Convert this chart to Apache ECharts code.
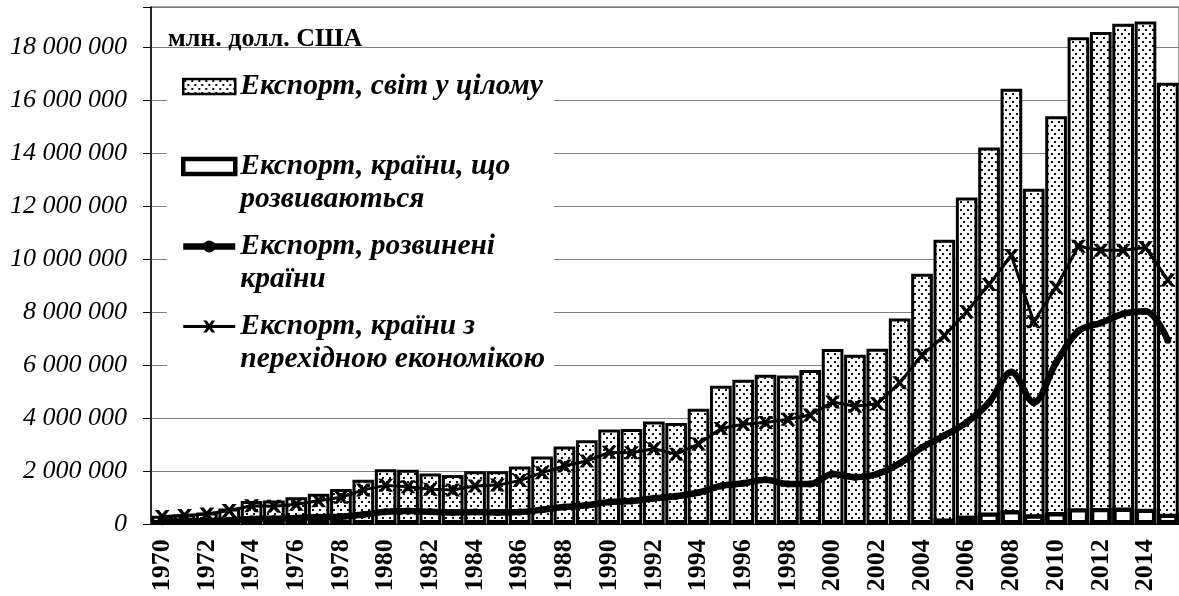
<!DOCTYPE html>
<html>
<head>
<meta charset="utf-8">
<script src="https://cdn.jsdelivr.net/npm/echarts@6/dist/echarts.min.js"></script>
<style>
  html, body { margin: 0; padding: 0; background: #fff; }
  #chart { width: 1179px; height: 596px; }
</style>
</head>
<body>
<div id="chart"></div>
<script>
// млн. долл. США
const years = ['1970', '1971', '1972', '1973', '1974', '1975', '1976', '1977', '1978', '1979',
  '1980', '1981', '1982', '1983', '1984', '1985', '1986', '1987', '1988', '1989',
  '1990', '1991', '1992', '1993', '1994', '1995', '1996', '1997', '1998', '1999',
  '2000', '2001', '2002', '2003', '2004', '2005', '2006', '2007', '2008', '2009',
  '2010', '2011', '2012', '2013', '2014', '2015'];

const worldExport = [320000, 370000, 450000, 600000, 880000, 900000, 1020000, 1150000, 1330000, 1680000,
  2080000, 2060000, 1920000, 1860000, 2000000, 2000000, 2180000, 2560000, 2940000, 3170000,
  3580000, 3600000, 3880000, 3830000, 4360000, 5230000, 5460000, 5650000, 5620000, 5830000,
  6620000, 6400000, 6630000, 7770000, 9460000, 10750000, 12340000, 14230000, 16450000, 12670000,
  15410000, 18390000, 18590000, 18900000, 18990000, 16670000];

const developingExport = [20000, 20000, 25000, 30000, 35000, 35000, 35000, 40000, 40000, 40000,
  45000, 45000, 45000, 45000, 45000, 45000, 45000, 50000, 50000, 50000,
  55000, 55000, 55000, 55000, 60000, 60000, 60000, 65000, 65000, 65000,
  70000, 70000, 80000, 100000, 140000, 220000, 330000, 450000, 540000, 380000,
  460000, 610000, 620000, 630000, 590000, 400000];

const developedExport = [100000, 110000, 120000, 150000, 200000, 210000, 240000, 270000, 290000, 370000,
  470000, 500000, 470000, 450000, 460000, 450000, 460000, 550000, 650000, 720000,
  840000, 880000, 980000, 1060000, 1200000, 1450000, 1550000, 1680000, 1520000, 1520000,
  1900000, 1780000, 1900000, 2300000, 2900000, 3350000, 3850000, 4600000, 5750000, 4600000,
  6100000, 7300000, 7600000, 7950000, 8050000, 6950000];

const transitionExport = [290000, 330000, 390000, 520000, 700000, 680000, 760000, 890000, 1020000, 1300000,
  1470000, 1420000, 1320000, 1300000, 1450000, 1480000, 1650000, 1950000, 2200000, 2390000,
  2720000, 2700000, 2850000, 2650000, 3030000, 3620000, 3780000, 3840000, 3970000, 4130000,
  4620000, 4460000, 4550000, 5350000, 6390000, 7120000, 8030000, 9060000, 10150000, 7650000,
  8950000, 10500000, 10350000, 10350000, 10450000, 9230000];

const seriesNames = ['Експорт, світ у цілому', 'Експорт, країни, що розвиваються',
  'Експорт, розвинені країни', 'Експорт, країни з перехідною економікою'];
const legendLabels = ['\nЕкспорт, світ у цілому\n', '\nЕкспорт, країни, що\nрозвиваються',
  '\nЕкспорт, розвинені\nкраїни', '\nЕкспорт, країни з\nперехідною економікою'];
const unitLabel = 'млн. долл. США';

const serif = 'Liberation Serif, Times New Roman, serif';

function dotPattern() {
  const c = document.createElement('canvas');
  c.width = 7;
  c.height = 8;
  const ctx = c.getContext('2d');
  ctx.fillStyle = '#fff';
  ctx.fillRect(0, 0, 7, 8);
  ctx.fillStyle = '#111';
  ctx.fillRect(1, 1, 2, 2);
  ctx.fillRect(4, 5, 2, 2);
  return { image: c, repeat: 'repeat' };
}

function spaced(v) {
  return String(v).replace(/\B(?=(\d{3})+(?!\d))/g, ' ');
}

const chart = echarts.init(document.getElementById('chart'));
const crossPath = 'path://M0,0 L4,0 L7,3.5 L10,0 L14,0 L9,6 L14,12 L10,12 L7,8.5 L4,12 L0,12 L5,6 Z';

const option = {
  animation: false,
  title: {
    text: unitLabel,
    left: 168,
    top: 26,
    padding: 0,
    textStyle: { fontFamily: serif, fontWeight: 'bold', fontSize: 26, color: '#000' }
  },
  graphic: {
    elements: [{
      type: 'rect',
      left: 167,
      top: 54,
      z: 1,
      shape: { width: 387, height: 346 },
      style: { fill: '#fff' }
    }]
  },
  legend: {
    orient: 'vertical',
    left: 180,
    top: 37,
    padding: 0,
    itemGap: -19,
    itemWidth: 52,
    itemHeight: 15,
    selectedMode: false,
    formatter: function (name) {
      return legendLabels[seriesNames.indexOf(name)];
    },
    textStyle: {
      fontFamily: serif, fontWeight: 'bold', fontStyle: 'italic',
      fontSize: 29.5, lineHeight: 33, color: '#000'
    },
    data: [
      { name: seriesNames[0], icon: 'rect', itemStyle: { borderWidth: 2.5 } },
      { name: seriesNames[1], icon: 'rect', itemStyle: { borderWidth: 4.5 } },
      { name: seriesNames[2], lineStyle: { width: 6.5 } },
      { name: seriesNames[3], lineStyle: { width: 3 } }
    ]
  },
  grid: {
    left: 151,
    top: 7,
    width: 1034,
    height: 517.3,
    show: true,
    borderColor: '#808080',
    borderWidth: 1.5
  },
  xAxis: {
    type: 'category',
    data: years,
    axisLine: { lineStyle: { color: '#000', width: 1 } },
    axisTick: { interval: 0, length: 7, lineStyle: { color: '#555' } },
    axisLabel: {
      interval: 1, rotate: 90, margin: 15,
      fontFamily: serif, fontWeight: 'bold', fontSize: 26, color: '#000'
    }
  },
  yAxis: {
    type: 'value',
    min: 0,
    max: 19535000,
    interval: 2000000,
    axisLine: { show: true, lineStyle: { color: '#000', width: 1.5 } },
    axisTick: { show: true, length: 8, lineStyle: { color: '#000' } },
    axisLabel: {
      margin: 24,
      fontFamily: serif, fontStyle: 'italic', fontSize: 26, color: '#000',
      formatter: function (v) { return v % 2000000 ? '' : '{i|' + spaced(v) + '}'; },
      rich: {
        i: { fontFamily: serif, fontStyle: 'italic', fontSize: 26, color: '#000' }
      }
    },
    splitLine: { lineStyle: { color: '#808080', width: 1 } }
  },
  series: [
    {
      name: seriesNames[0],
      type: 'bar',
      data: worldExport,
      barGap: '-100%',
      barCategoryGap: '3%',
      itemStyle: { color: dotPattern(), borderColor: '#000', borderWidth: 3 },
      z: 2
    },
    {
      name: seriesNames[1],
      type: 'bar',
      data: developingExport,
      barGap: '-100%',
      barCategoryGap: '3%',
      barMinHeight: 4,
      itemStyle: { color: '#fff', borderColor: '#000', borderWidth: 4.4 },
      z: 3
    },
    {
      name: seriesNames[2],
      type: 'line',
      data: developedExport,
      smooth: 0.35,
      symbol: 'circle',
      symbolSize: 7,
      lineStyle: { color: '#000', width: 6.5 },
      itemStyle: { color: '#000' },
      z: 4
    },
    {
      name: seriesNames[3],
      type: 'line',
      data: transitionExport,
      symbol: crossPath,
      symbolSize: [15, 13],
      lineStyle: { color: '#000', width: 3 },
      itemStyle: { color: '#000' },
      z: 5
    }
  ]
};

chart.setOption(option);
</script>
</body>
</html>
